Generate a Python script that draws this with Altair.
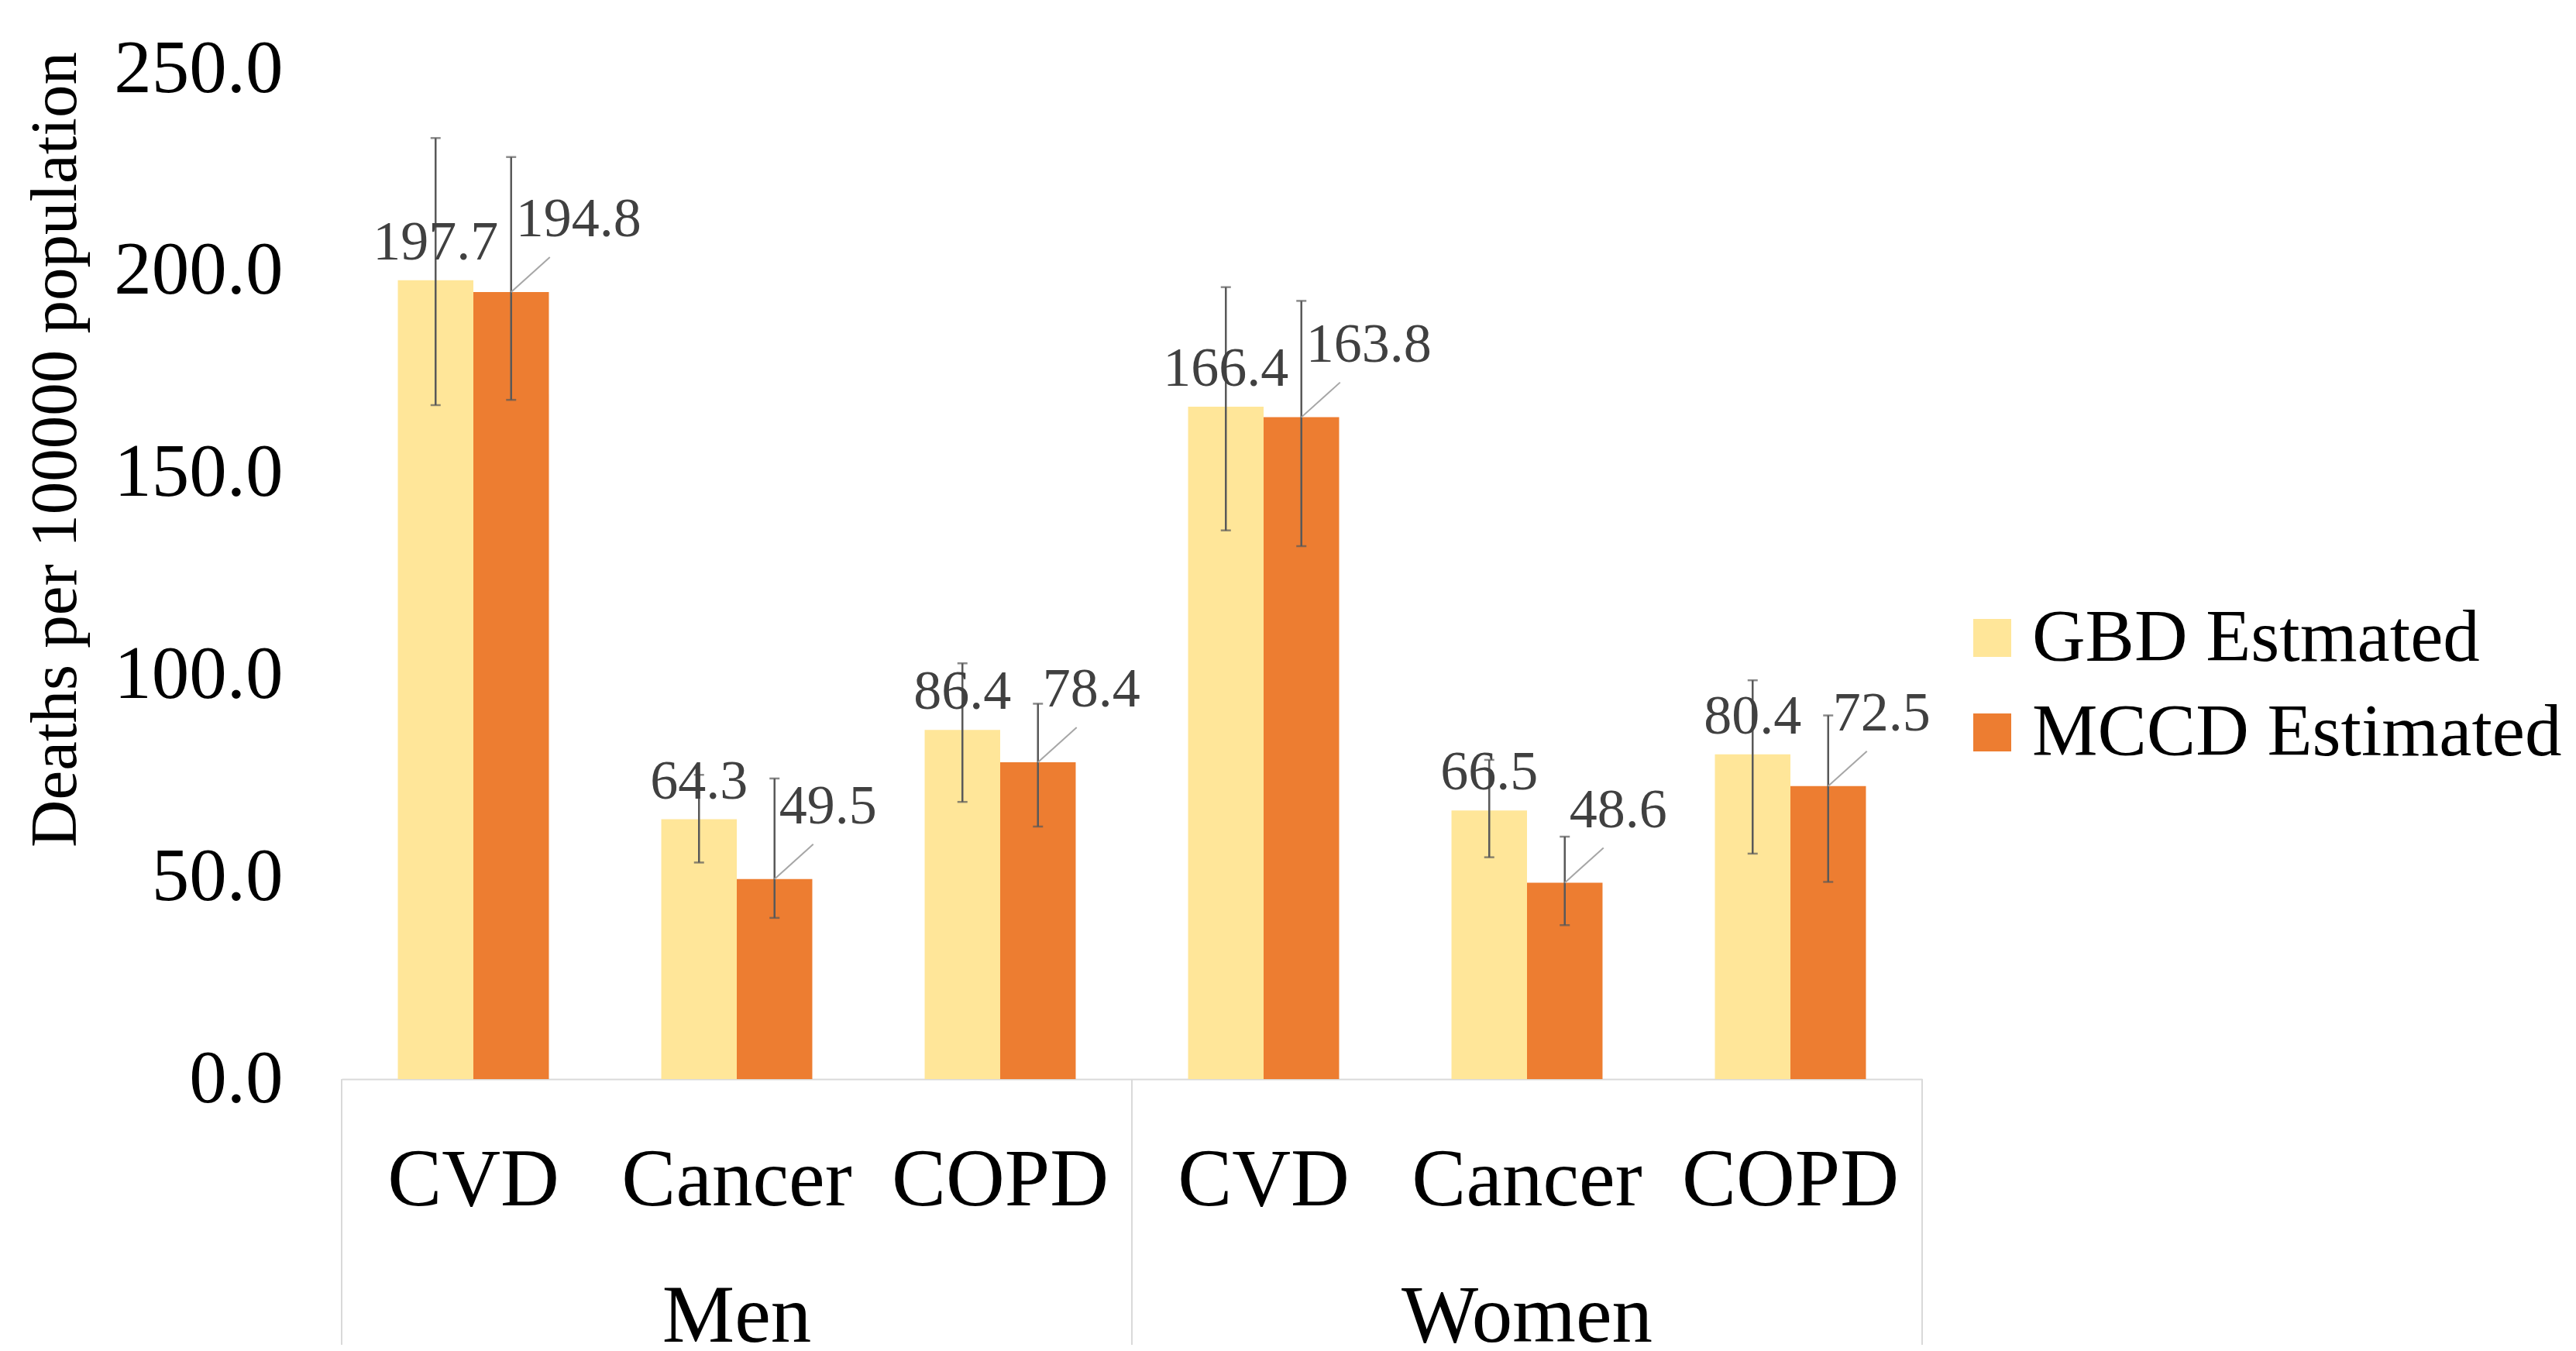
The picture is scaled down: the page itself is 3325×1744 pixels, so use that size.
import altair as alt
import pandas as pd

# ---- data ----
groups = ["Men", "Women"]
categories = ["CVD", "Cancer", "COPD"]
series = ["GBD Estmated", "MCCD Estimated"]

gbd_values = [197.7, 64.3, 86.4, 166.4, 66.5, 80.4]
gbd_lower = [166.8, 53.6, 68.6, 135.8, 54.9, 55.8]
gbd_upper = [232.9, 75.3, 102.9, 196.0, 79.0, 98.7]

mccd_values = [194.8, 49.5, 78.4, 163.8, 48.6, 72.5]
mccd_lower = [168.1, 39.9, 62.5, 131.9, 38.1, 48.8]
mccd_upper = [228.2, 74.4, 92.9, 192.6, 60.0, 90.0]

y_ticks = [0, 50, 100, 150, 200, 250]
y_title = "Deaths per 100000 population"
colors = ["#FFE699", "#ED7D31"]

FONT = "Liberation Serif"

# ---- build tables ----
keys = [f"{g}|{c}" for g in groups for c in categories]
rows = []
for s, vals, lo, hi in [
    (series[0], gbd_values, gbd_lower, gbd_upper),
    (series[1], mccd_values, mccd_lower, mccd_upper),
]:
    for i, k in enumerate(keys):
        g, c = k.split("|")
        rows.append(dict(key=k, group=g, category=c, series=s,
                         value=vals[i], lower=lo[i], upper=hi[i]))
df = pd.DataFrame(rows)

group_df = pd.DataFrame({
    "group": groups,
    "key": [f"{g}|{categories[len(categories) // 2]}" for g in groups],
})
start_df = pd.DataFrame({"key": [f"{g}|{categories[0]}" for g in groups]})
end_df = pd.DataFrame({"key": [f"{groups[-1]}|{categories[-1]}"]})

W, H = 2040, 1304

x_enc = alt.X("key:N", scale=alt.Scale(domain=keys, paddingInner=0, paddingOuter=0),
              axis=alt.Axis(title=None, labelExpr="split(datum.label, '|')[1]",
                            labelFont=FONT, labelFontSize=105, labelColor="black",
                            labelPadding=79, tickSize=0, ticks=False, labelAngle=0,
                            labelOverlap=False, labelLimit=2000,
                            domainColor="#D9D9D9", domainWidth=2, grid=False))
xoff_enc = alt.XOffset("series:N", scale=alt.Scale(domain=series, paddingInner=0,
                                                    paddingOuter=0.744))
y_scale = alt.Scale(domain=[0, 250], nice=False)

base = alt.Chart(df)

bars = base.mark_bar().encode(
    x=x_enc,
    xOffset=xoff_enc,
    y=alt.Y("value:Q", scale=y_scale,
            axis=alt.Axis(title=y_title, values=y_ticks, format=".1f",
                          labelFont=FONT, labelFontSize=97, labelColor="black",
                          labelPadding=76, labelLimit=2000, tickSize=0, ticks=False,
                          domain=False, grid=False, titleFont=FONT, titleFontSize=85,
                          titleFontWeight="normal", titleColor="black",
                          titleX=-344, titleY=491, titleBaseline="alphabetic",
                          titleAlign="center", titleLimit=3000)),
    color=alt.Color("series:N", scale=alt.Scale(domain=series, range=colors),
                    legend=alt.Legend(title=None, orient="none", legendX=2083,
                                      legendY=687, symbolType="square",
                                      symbolSize=2401, symbolStrokeWidth=0,
                                      labelFont=FONT, labelFontSize=95,
                                      labelColor="black", labelLimit=2000,
                                      rowPadding=26, labelOffset=4)),
)

err = base.mark_rule(color="#595959", strokeWidth=2.5).encode(
    x="key:N", xOffset="series:N", y="lower:Q", y2="upper:Q")
cap_lo = base.mark_tick(color="#595959", thickness=2.5, size=13).encode(
    x="key:N", xOffset="series:N", y="lower:Q")
cap_hi = base.mark_tick(color="#595959", thickness=2.5, size=13).encode(
    x="key:N", xOffset="series:N", y="upper:Q")

lbl_gbd = base.transform_filter(alt.datum.series == series[0]).mark_text(
    font=FONT, fontSize=72, color="#404040", align="center",
    baseline="alphabetic", dy=-27).encode(
    x="key:N", xOffset="series:N", y="value:Q",
    text=alt.Text("value:Q", format=".1f"))

lbl_mccd = base.transform_filter(alt.datum.series == series[1]).mark_text(
    font=FONT, fontSize=72, color="#404040", align="left",
    baseline="alphabetic", dx=6, dy=-72).encode(
    x="key:N", xOffset="series:N", y="value:Q",
    text=alt.Text("value:Q", format=".1f"))

leader = base.transform_filter(alt.datum.series == series[1]).mark_point(
    shape="M0,0L1,-0.9", filled=False, size=10000, stroke="#A6A6A6",
    strokeWidth=2, opacity=1).encode(
    x="key:N", xOffset="series:N", y="value:Q")

sep_start = alt.Chart(start_df).mark_rule(color="#D9D9D9", strokeWidth=2).encode(
    x=alt.X("key:N", bandPosition=0), y=alt.value(H), y2=alt.value(H + 420))
sep_end = alt.Chart(end_df).mark_rule(color="#D9D9D9", strokeWidth=2).encode(
    x=alt.X("key:N", bandPosition=1), y=alt.value(H), y2=alt.value(H + 420))

group_lbl = alt.Chart(group_df).mark_text(
    font=FONT, fontSize=105, color="black", align="center",
    baseline="alphabetic").encode(
    x="key:N", y=alt.value(1643), text="group:N")

chart = alt.layer(
    bars, err, cap_lo, cap_hi, leader, lbl_gbd, lbl_mccd,
    sep_start, sep_end, group_lbl
).properties(
    width=W, height=H,
    autosize=alt.AutoSizeParams(type="none"),
    padding={"left": 433, "top": 81, "right": 836, "bottom": 343},
).configure(background="white").configure_view(stroke=None, strokeWidth=0)

chart.save("out.html", embed_options={"renderer": "svg", "actions": False})
